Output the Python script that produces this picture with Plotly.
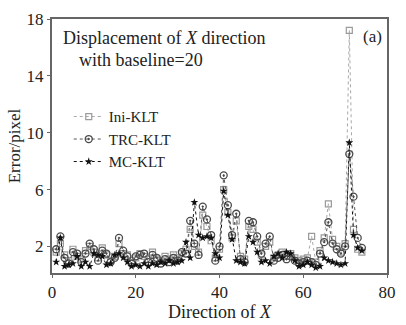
import plotly.graph_objects as go

x = list(range(1, 75))

ini_klt = [1.6, 2.2, 1.4, 1.0, 1.8, 1.3, 1.1, 1.7, 2.0, 1.6, 1.2, 1.9, 1.4, 1.0, 1.3, 2.2, 1.5, 1.4, 1.0, 1.2,
           1.5, 1.3, 1.1, 1.6, 1.1, 1.0, 1.3, 1.1, 1.4, 1.2, 1.5, 1.8, 3.2, 2.0, 1.6, 4.2, 3.4, 2.4, 1.2, 1.8,
           6.0, 4.4, 2.6, 3.8, 1.3, 1.1, 3.4, 3.2, 2.3, 1.4, 2.0, 2.3, 1.2, 1.4, 1.6, 1.3, 1.5, 1.2, 1.0, 1.1,
           1.2, 2.7, 0.9, 1.7, 2.6, 5.0, 2.5, 2.0, 1.6, 2.2, 17.2, 3.2, 1.8, 1.6]

trc_klt = [1.8, 2.7, 1.2, 0.8, 1.6, 1.5, 0.9, 1.5, 2.2, 1.8, 1.0, 1.7, 1.5, 0.9, 1.2, 2.6, 1.7, 1.3, 0.8, 1.3,
           1.4, 1.5, 0.9, 1.4, 1.2, 0.8, 1.1, 0.9, 1.2, 1.0, 1.6, 1.5, 3.8, 2.2, 1.4, 4.8, 3.9, 2.8, 1.0, 2.0,
           7.0, 4.9, 2.8, 4.3, 1.1, 0.9, 3.8, 3.7, 2.7, 1.5, 2.2, 2.7, 1.0, 1.2, 1.4, 1.1, 1.3, 1.0, 0.8, 0.9,
           1.0, 0.9, 0.7, 1.5, 2.3, 3.7, 2.2, 1.8, 1.5, 2.0, 8.5, 5.5, 2.6, 1.9]

mc_klt = [0.9, 2.6, 0.6, 0.7, 0.8, 1.3, 0.6, 0.9, 0.6, 1.5, 1.4, 1.3, 0.7, 0.8, 1.4, 1.5, 1.2, 0.9, 0.6, 0.7,
          0.6, 0.8, 0.6, 0.8, 0.7, 0.9, 0.8, 1.0, 0.8, 0.9, 1.0, 2.3, 1.2, 5.1, 2.8, 2.6, 2.7, 2.6, 1.5, 1.2,
          5.9, 4.2, 2.5, 1.0, 0.9, 0.8, 2.7, 2.3, 1.6, 0.9, 1.0, 0.8, 1.3, 1.5, 1.2, 1.6, 1.5, 1.0, 0.6, 0.7,
          0.9, 0.7, 0.5, 0.6, 1.2, 1.0, 0.9, 0.8, 0.7, 0.8, 9.3, 2.8, 1.9, 1.7]

x_ticks = [0, 20, 40, 60, 80]
y_ticks = [2, 6, 10, 14, 18]

font_family = "Liberation Serif"
txt = "#222222"

fig = go.Figure()
fig.add_trace(go.Scatter(
    x=x, y=ini_klt, name="Ini-KLT", mode="lines+markers",
    line=dict(color="#a8a8a8", width=1, dash="dot"),
    marker=dict(symbol="square-open", size=6, color="#9a9a9a", line=dict(width=1.2)),
))
fig.add_trace(go.Scatter(
    x=x, y=trc_klt, name="TRC-KLT", mode="lines+markers",
    line=dict(color="#555555", width=1, dash="dot"),
    marker=dict(symbol="circle-open-dot", size=7, color="#4a4a4a", line=dict(width=1.3)),
))
fig.add_trace(go.Scatter(
    x=x, y=mc_klt, name="MC-KLT", mode="lines+markers",
    line=dict(color="#111111", width=1, dash="dot"),
    marker=dict(symbol="star", size=6, color="#111111"),
))

axis_common = dict(
    showgrid=False, zeroline=False, showline=True, linecolor="#666666", linewidth=2,
    mirror=True, ticks="outside", ticklen=3, tickcolor="#666666",
    tickfont=dict(family=font_family, size=17, color=txt),
)

fig.update_layout(
    width=406, height=325,
    margin=dict(l=52, r=10, t=15, b=40),
    paper_bgcolor="white", plot_bgcolor="white",
    font=dict(family=font_family, size=17, color=txt),
    showlegend=True,
    legend=dict(x=0.05, y=0.68, xanchor="left", yanchor="top",
                bgcolor="rgba(0,0,0,0)", font=dict(family=font_family, size=15, color=txt),
                tracegroupgap=0, itemwidth=30),
    xaxis=dict(range=[0, 80], tickvals=x_ticks,
               title=dict(text="Direction of <i>X</i>", font=dict(family=font_family, size=18, color=txt), standoff=0),
               **axis_common),
    yaxis=dict(range=[0.13, 18], tickvals=y_ticks,
               title=dict(text="Error/pixel", font=dict(family=font_family, size=17, color=txt), standoff=2),
               **axis_common),
    annotations=[
        dict(text="Displacement of <i>X</i> direction",
             xref="paper", yref="paper", x=0.026, y=0.926, xanchor="left", yanchor="middle",
             showarrow=False, font=dict(family=font_family, size=18, color=txt)),
        dict(text="with baseline=20",
             xref="paper", yref="paper", x=0.075, y=0.84, xanchor="left", yanchor="middle",
             showarrow=False, font=dict(family=font_family, size=18, color=txt)),
        dict(text="(a)", xref="paper", yref="paper", x=0.99, y=0.93, xanchor="right", yanchor="middle",
             showarrow=False, font=dict(family=font_family, size=17, color=txt)),
    ],
)

fig.write_html("out.html")
